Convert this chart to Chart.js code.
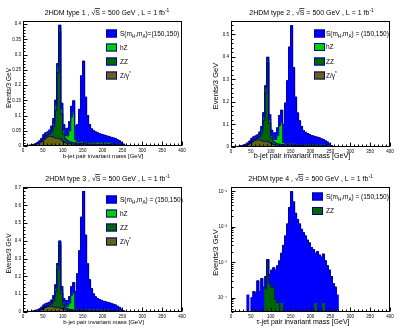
<!DOCTYPE html>
<html>
<head>
<meta charset="utf-8">
<script src="https://cdn.jsdelivr.net/npm/chart.js@4.4.1/dist/chart.umd.min.js"></script>
<style>
  html, body { margin: 0; padding: 0; background: #fff; }
  #wrap { position: relative; width: 415px; height: 332px; overflow: hidden; }
  canvas { position: absolute; }
</style>
</head>
<body>
<div id="wrap">
  <canvas id="c1" width="207" height="166" style="left:0;top:0"></canvas>
  <canvas id="c2" width="208" height="166" style="left:207px;top:0"></canvas>
  <canvas id="c3" width="207" height="166" style="left:0;top:166px"></canvas>
  <canvas id="c4" width="208" height="166" style="left:207px;top:166px"></canvas>
</div>
<script>
// bin left edges (GeV)
const massBins = [10,15,20,25,30,35,40,45,50,55,60,65,70,75,80,85,90,95,100,105,
  110,115,120,125,130,135,140,145,150,155,160,165,170,175,180,185,190,195,200,205,
  210,215,220,225,230,235,240,245,250,255,260,265,270,275];
const binWidth = 5;

// SM backgrounds, b-jet pair (same for types 1-3)
const zgamBkg = [0.001,0.002,0.003,0.004,0.006,0.008,0.011,0.015,0.021,0.026,
  0.030,0.032,0.031,0.028,0.026,0.025,0.024,0.020,0.015,0.011,
  0.009,0.008,0.007,0.006,0.006,0.005,0.005,0.004,0.004,0.004,
  0.003,0.003,0.003,0.003,0.002,0.002,0.002,0.002,0.002,0.002,
  0.002,0.002,0.002,0.002,0.002,0.001,0.001,0.001,0,0,
  0,0,0,0];
const zzBkg = [0,0,0,0,0,0.001,0.002,0.003,0.005,0.006,
  0.006,0.008,0.015,0.035,0.090,0.215,0.350,0.085,0.025,0.012,
  0.008,0.006,0.005,0.005,0.004,0.004,0.004,0.004,0.004,0.003,
  0.003,0.003,0.003,0.003,0.003,0.003,0.003,0.003,0.003,0.003,
  0.003,0.003,0.003,0.002,0.002,0.002,0.002,0.001,0.001,0,
  0,0,0,0];
const hzBkg = [0,0,0,0,0,0,0,0.001,0.002,0.002,
  0.003,0.003,0.006,0.012,0.020,0.022,0.012,0.018,0.012,0.012,
  0.016,0.036,0.083,0.097,0.010,0.006,0.005,0.005,0.005,0.005,
  0.005,0.005,0.005,0.005,0.005,0.005,0.005,0.005,0.005,0.005,
  0.005,0.005,0.004,0.004,0.004,0.003,0.003,0.002,0.001,0,
  0,0,0,0];

// signal S(mH,mA)=(150,150)
const sigType1 = [0,0,0,0.001,0.002,0.003,0.004,0.006,0.009,0.009,
  0.007,0.009,0.013,0.015,0.014,0.008,0.010,0.017,0.018,0.021,
  0.025,0.030,0.035,0.040,0.045,0.055,0.106,0.217,0.265,0.148,
  0.089,0.059,0.045,0.039,0.036,0.033,0.030,0.028,0.026,0.024,
  0.022,0.020,0.019,0.018,0.016,0.014,0.011,0.008,0.004,0.002,
  0.001,0,0,0];
const sigType2 = [0,0,0.001,0.001,0.002,0.003,0.005,0.007,0.010,0.011,
  0.010,0.011,0.014,0.016,0.016,0.010,0.012,0.020,0.022,0.026,
  0.030,0.035,0.045,0.055,0.080,0.180,0.280,0.430,0.525,0.340,
  0.210,0.140,0.105,0.080,0.062,0.055,0.050,0.045,0.041,0.038,
  0.035,0.033,0.031,0.028,0.025,0.021,0.016,0.010,0.004,0.001,
  0,0,0,0];
const sigType3 = [0,0,0.001,0.001,0.002,0.003,0.005,0.008,0.011,0.012,
  0.011,0.012,0.015,0.017,0.017,0.011,0.013,0.021,0.024,0.028,
  0.032,0.037,0.047,0.057,0.095,0.200,0.330,0.520,0.665,0.420,
  0.260,0.170,0.120,0.090,0.075,0.066,0.060,0.055,0.050,0.047,
  0.044,0.041,0.038,0.035,0.031,0.026,0.020,0.012,0.005,0.002,
  0,0,0,0];

// type 4, tau-jet pair
const zzTau = [0,0,0,0,0,0,0,0,0,0,
  0,0,0,0,0,0.00018,0.0011,0.00025,0.0002,0.0002,
  0.00009,0.00007,0,0.00007,0,0,0,0,0,0,
  0,0,0,0,0,0,0,0,0,0,
  0.00007,0,0,0,0.00007,0,0,0,0,0,
  0,0,0,0];
const sigTau = [0,0,0,0,0,0,0.00012,0,0.0001,0.00015,
  0.00014,0.0003,0.00015,0.00035,0.0002,0.00022,0.0001,0.0002,0.0004,0.0005,
  0.00051,0.00073,0.0011,0.00173,0.003,0.0055,0.012,0.035,0.098,0.05,
  0.024,0.016,0.012,0.0085,0.0068,0.0055,0.0042,0.0035,0.0026,0.0023,
  0.00173,0.002,0.0016,0.0014,0.00163,0.0011,0.0008,0.0006,0.0004,0.00025,
  0.0002,0.00012,0,0];

const xTicks = [0,50,100,150,200,250,300,350,400];
const yTicksType1 = [0,0.05,0.1,0.15,0.2,0.25,0.3,0.35,0.4];
const yTicksType2 = [0,0.1,0.2,0.3,0.4,0.5];
const yTicksType3 = [0,0.1,0.2,0.3,0.4,0.5,0.6,0.7];
const yTicksTau = [1e-4,1e-3,1e-2,1e-1];
const tauTickLabels = ['10\u207B\u2074','10\u207B\u00B3','10\u207B\u00B2','10\u207B\u00B9'];

const FONT = '"Liberation Sans", Arial, Helvetica, sans-serif';
const LINE = '#000099';
const colSig = '#0000ff', colHz = '#00d000', colZz = '#006600', colZg = '#666600';

// filled part of a stacked histogram: one bar per bin (empty bins skipped)
function barSet(label, values, color) {
  return {
    type: 'bar', label, stack: 'fill', order: 1,
    data: massBins.map((b, i) => ({x: b + binWidth / 2, y: values[i] || null})),
    backgroundColor: color, borderWidth: 0, inflateAmount: 0.5,
    barPercentage: 1, categoryPercentage: 1
  };
}
// ROOT-style outline of the same histogram (stepped line, stacked separately)
function edgeSet(label, values) {
  const pts = [{x: massBins[0] - binWidth, y: 0}];
  massBins.forEach((b, i) => pts.push({x: b, y: values[i]}));
  pts.push({x: massBins[massBins.length - 1] + binWidth, y: 0});
  return {
    type: 'line', label, stack: 'edge', order: 0, data: pts,
    borderColor: LINE, borderWidth: 1, fill: false, stepped: true, pointRadius: 0
  };
}

function minorTicks(step, max) {
  const out = [];
  for (let i = 0; i * step <= max + 1e-9; i++) out.push(i * step);
  return out;
}

function logMinor(min, max) {
  const out = [];
  for (let d = -5; d <= 0; d++) {
    for (let m = 1; m <= 9; m++) {
      const v = m * Math.pow(10, d);
      if (v >= min && v <= max) out.push(v);
    }
  }
  return out;
}

// text with sub/superscripts and overline
function drawRich(ctx, parts, x, y, size, align) {
  let w = 0;
  const items = parts.map(p => {
    const s = (p.sup || p.sub) ? size * 0.7 : size;
    ctx.font = s + 'px ' + FONT;
    const pw = ctx.measureText(p.t).width;
    w += pw;
    return Object.assign({}, p, {s, pw});
  });
  let cx = align === 'center' ? x - w / 2 : x;
  ctx.textAlign = 'left';
  ctx.textBaseline = 'alphabetic';
  items.forEach(it => {
    ctx.font = it.s + 'px ' + FONT;
    const dy = it.sup ? -size * 0.42 : it.sub ? size * 0.28 : 0;
    ctx.fillText(it.t, cx, y + dy);
    if (it.over) ctx.fillRect(cx - 0.5, y - size * 0.92, it.pw + 0.5, 0.7);
    cx += it.pw;
  });
}

const rootPad = {
  id: 'rootPad',
  afterDraw(chart, args, o) {
    const {ctx, chartArea: a, scales: {x, y}} = chart;
    ctx.save();
    ctx.strokeStyle = '#000';
    ctx.fillStyle = '#000';
    ctx.lineWidth = 1;
    const L = Math.round(a.left) + 0.5, R = Math.round(a.right) - 0.5;
    const T = Math.round(a.top) + 0.5, B = Math.round(a.bottom) - 0.5;
    ctx.strokeRect(L, T, R - L, B - T);
    ctx.beginPath();
    for (let v = 0; v <= 400; v += 10) {
      const px = Math.round(x.getPixelForValue(v)) + 0.5;
      const len = v % 50 === 0 ? 4 : 2;
      ctx.moveTo(px, B); ctx.lineTo(px, B - len);
    }
    o.yMinor.forEach(v => {
      const py = Math.round(y.getPixelForValue(v)) + 0.5;
      ctx.moveTo(L, py); ctx.lineTo(L + 2, py);
    });
    o.yMajor.forEach(v => {
      const py = Math.round(y.getPixelForValue(v)) + 0.5;
      ctx.moveTo(L, py); ctx.lineTo(L + 4, py);
    });
    ctx.stroke();

    // title
    drawRich(ctx, o.title, o.titleX, 14.5, 7, 'center');
    // x title
    ctx.font = o.xSize + 'px ' + FONT;
    ctx.textAlign = 'center';
    ctx.textBaseline = 'alphabetic';
    ctx.fillText(o.xTitle, o.xTitleX, o.xTitleY);
    // y title
    ctx.save();
    ctx.translate(o.yTitleX, o.yTitleY);
    ctx.rotate(-Math.PI / 2);
    ctx.font = o.ySize + 'px ' + FONT;
    ctx.fillText('Events/3 GeV', 0, 0);
    ctx.restore();

    // legend
    o.legend.forEach((e, i) => {
      const cy = o.legendRows[i];
      ctx.fillStyle = e.color;
      ctx.fillRect(o.boxX, cy - 4, 11, 8);
      ctx.strokeStyle = LINE;
      ctx.strokeRect(o.boxX + 0.5, cy - 3.5, 10, 7);
      ctx.fillStyle = '#000';
      drawRich(ctx, e.parts, o.textX, cy + 2.3, 6.5, 'left');
    });
    ctx.restore();
  }
};

function titleParts(n) {
  return [{t: '2HDM type ' + n + ' , \u221A'}, {t: 'S', over: true},
          {t: ' = 500 GeV , L = 1 fb'}, {t: '-1', sup: true}];
}
function sigLegend(sp) {
  return [{t: 'S(m'}, {t: 'H', sub: true}, {t: ',m'}, {t: 'A', sub: true},
          {t: ')' + sp + '=' + sp + '(150,150)'}];
}
const bbLegend = sp => [
  {color: colSig, parts: sigLegend(sp)},
  {color: colHz, parts: [{t: 'hZ'}]},
  {color: colZz, parts: [{t: 'ZZ'}]},
  {color: colZg, parts: [{t: 'Z/\u03B3'}, {t: '*', sup: true}]}
];

function makePanel(cfg) {
  const W = cfg.W, H = 166;
  const tickFont = {size: 4.5, family: FONT};
  const noGrid = {display: false, drawTicks: false};
  const yScale = cfg.log ? {
    type: 'logarithmic', min: cfg.yMin, max: cfg.yMax, stacked: true,
    grid: noGrid, border: {display: false},
    ticks: {font: tickFont, color: '#000', padding: 4, autoSkip: false,
      callback: v => tauTickLabels[yTicksTau.indexOf(v)] || ''},
    afterBuildTicks: s => { s.ticks = yTicksTau.map(v => ({value: v})); },
    afterFit: s => { s.width = cfg.area.left; }
  } : {
    type: 'linear', min: 0, max: cfg.yMax, stacked: true,
    grid: noGrid, border: {display: false},
    ticks: {font: tickFont, color: '#000', padding: 2, autoSkip: false,
      callback: v => String(v)},
    afterBuildTicks: s => { s.ticks = cfg.yTicks.map(v => ({value: v})); },
    afterFit: s => { s.width = cfg.area.left; }
  };
  new Chart(document.getElementById(cfg.id), {
    type: 'bar',
    data: {datasets: cfg.datasets},
    plugins: [rootPad],
    options: {
      responsive: false, animation: false, events: [],
      layout: {padding: {top: cfg.area.top, right: W - cfg.area.right, left: 0, bottom: 0}},
      plugins: {
        legend: {display: false}, tooltip: {enabled: false},
        rootPad: {
          yMajor: cfg.log ? yTicksTau : cfg.yTicks,
          yMinor: cfg.log ? logMinor(cfg.yMin, cfg.yMax) : minorTicks(cfg.yMinorStep, cfg.yMax),
          title: titleParts(cfg.type), titleX: cfg.titleX,
          xTitle: cfg.xTitle, xTitleX: cfg.xTitleX, xTitleY: cfg.xTitleY, xSize: cfg.xSize,
          yTitleX: cfg.yTitleX, yTitleY: cfg.yTitleY, ySize: cfg.ySize,
          legend: cfg.legend, legendRows: cfg.legendRows, boxX: cfg.boxX, textX: cfg.textX
        }
      },
      elements: {point: {radius: 0}, line: {tension: 0}},
      scales: {
        x: {
          type: 'linear', min: 0, max: 400, offset: false, stacked: true,
          grid: Object.assign({offset: false}, noGrid), border: {display: false},
          ticks: {font: tickFont, color: '#000', padding: 2, maxRotation: 0, autoSkip: false},
          afterBuildTicks: s => { s.ticks = xTicks.map(v => ({value: v})); },
          afterFit: s => { s.height = H - cfg.area.bottom; }
        },
        y: yScale
      }
    }
  });
}

const bbSets = sig => [
  barSet('Z/\u03B3*', zgamBkg, colZg),
  barSet('ZZ', zzBkg, colZz),
  barSet('hZ', hzBkg, colHz),
  barSet('S', sig, colSig),
  edgeSet('Z/\u03B3*', zgamBkg),
  edgeSet('ZZ', zzBkg),
  edgeSet('hZ', hzBkg),
  edgeSet('S', sig)
];

makePanel({id: 'c1', W: 207, type: 1, area: {left: 23, right: 182, top: 21, bottom: 146},
  yMax: 0.41, yTicks: yTicksType1, yMinorStep: 0.01, datasets: bbSets(sigType1),
  titleX: 107, xTitle: 'b-jet pair invariant mass [GeV]', xTitleX: 103, xTitleY: 157.5, xSize: 6,
  yTitleX: 10.5, yTitleY: 88, ySize: 6.5,
  legend: bbLegend(''), legendRows: [33.5, 47.5, 61.5, 75.5], boxX: 106, textX: 120});

makePanel({id: 'c2', W: 208, type: 2, area: {left: 24, right: 183, top: 21, bottom: 147},
  yMax: 0.559, yTicks: yTicksType2, yMinorStep: 0.02, datasets: bbSets(sigType2),
  titleX: 104.5, xTitle: 'b-jet pair invariant mass [GeV]', xTitleX: 95, xTitleY: 158, xSize: 7.2,
  yTitleX: 10.5, yTitleY: 86, ySize: 7.5,
  legend: bbLegend(' '), legendRows: [33.5, 47, 61.5, 75.5], boxX: 107, textX: 119});

makePanel({id: 'c3', W: 207, type: 3, area: {left: 23, right: 182, top: 21, bottom: 146},
  yMax: 0.703, yTicks: yTicksType3, yMinorStep: 0.02, datasets: bbSets(sigType3),
  titleX: 107.5, xTitle: 'b-jet pair invariant mass [GeV]', xTitleX: 103.5, xTitleY: 157.5, xSize: 6,
  yTitleX: 10.5, yTitleY: 87.5, ySize: 6.5,
  legend: bbLegend(' '), legendRows: [33.5, 47.5, 61.5, 75.5], boxX: 106, textX: 120});

makePanel({id: 'c4', W: 208, type: 4, log: true, area: {left: 24, right: 183, top: 21, bottom: 146},
  yMin: 4e-5, yMax: 0.132,
  datasets: [barSet('ZZ', zzTau, colZz), barSet('S', sigTau, colSig),
             edgeSet('ZZ', zzTau), edgeSet('S', sigTau)],
  titleX: 103.5, xTitle: '\u03C4-jet pair invariant mass [GeV]', xTitleX: 96, xTitleY: 158, xSize: 7,
  yTitleX: 10.5, yTitleY: 86.5, ySize: 7.5,
  legend: [{color: colSig, parts: sigLegend(' ')}, {color: colZz, parts: [{t: 'ZZ'}]}],
  legendRows: [30.5, 45], boxX: 105, textX: 119});
</script>
</body>
</html>
